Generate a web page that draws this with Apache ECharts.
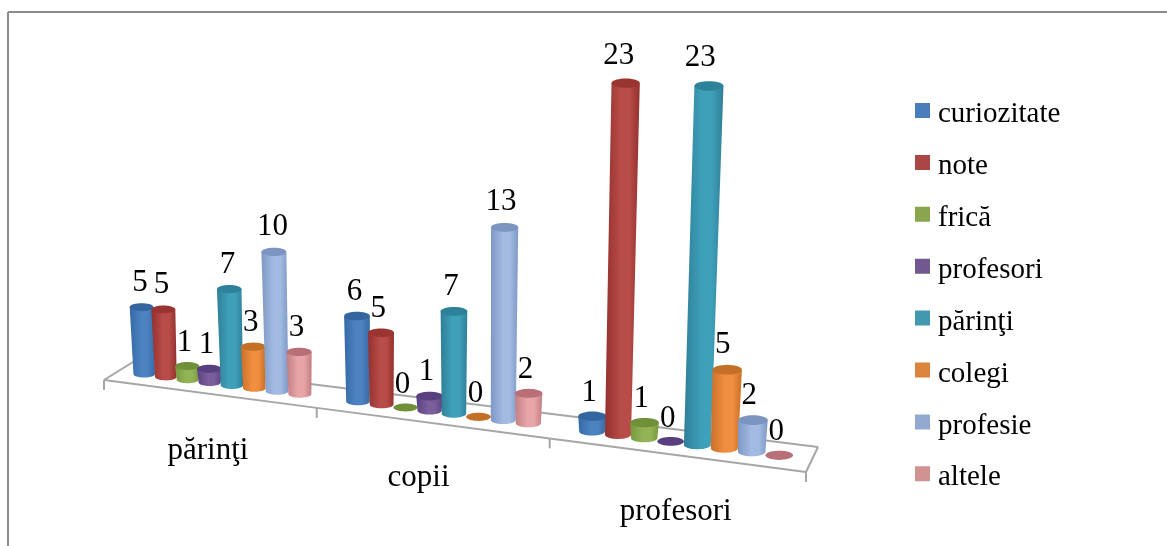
<!DOCTYPE html>
<html><head><meta charset="utf-8">
<style>html,body{margin:0;padding:0;background:#fff}#c{width:1167px;height:546px}</style>
<script src="https://cdn.jsdelivr.net/npm/echarts@6/dist/echarts.min.js"></script>
</head><body><div id="c"></div>
<script>
const categories = ['părinţi', 'copii', 'profesori'];
const seriesNames = ['curiozitate', 'note', 'frică', 'profesori', 'părinţi', 'colegi', 'profesie', 'altele'];
const curiozitate = [5, 6, 1];
const note = [5, 5, 23];
const frica = [1, 0, 1];
const profesori = [1, 1, 0];
const parinti = [7, 7, 23];
const colegi = [3, 0, 5];
const profesie = [10, 13, 2];
const altele = [3, 2, 0];
const seriesValues = [curiozitate, note, frica, profesori, parinti, colegi, profesie, altele];

const swatch = ['#4a7ebb', '#aa4643', '#89a54e', '#71588f', '#4198af', '#db843d', '#93a9cf', '#d19392'];
const capCol = ['#33659f', '#9a3431', '#6f8f38', '#573f80', '#2d8299', '#c46f28', '#7b94c0', '#b96f78'];
const edgeCol = ['#356aa6', '#94302e', '#779a3e', '#5b4280', '#2f7f96', '#c96f28', '#7e98c6', '#c07f85'];
const midCol = ['#4c82c0', '#b84c48', '#93b356', '#7a5f9c', '#3fa0ba', '#f08f40', '#a3bbe2', '#e8a5a8'];

const GL = 104, GW = 702, GT = 30, UNIT = 16.05, VMAX = 25, PERSP = 0.15;
const FONT = '"Liberation Serif","Times New Roman",serif';
const tOf = x => (x - GL) / GW;
const wOf = t => 1 + PERSP - PERSP * t;
const xOf = t => GL + GW * t / wOf(t);
const barBaseY = X => 374 + (X - 144) * 0.128;
const frontY = X => 380 + (X - 104) * 0.131;
const backY = X => 362 + (X - 133) * 0.1241;
const catLabelShift = [0, -12, 1];

function geom(api, cat, s, v) {
  const c0 = api.coord([cat, 0]);
  const cv = api.coord([cat, v]);
  const band = api.size([1, 0])[0];
  const t = tOf(c0[0] + band * (0.06 - 0.012 * cat + (s - 3.5) * 0.104));
  const w = wOf(t);
  const X = xOf(t);
  const h = (c0[1] - cv[1]) / Math.pow(w, 1.38);
  const baseW = 28 / (w * w);
  const by = barBaseY(X);
  const topX = X + 1.3e-4 * h * (X - 450);
  return { X, by, h, baseW, topX, topY: by - h, topW: v > 0 ? baseW + 2.2 : baseW };
}
function arc(cx, cy, rx, ry, a0, a1, n) {
  const p = [];
  for (let i = 0; i <= n; i++) {
    const a = a0 + (a1 - a0) * i / n;
    p.push([cx + rx * Math.cos(a), cy + ry * Math.sin(a)]);
  }
  return p;
}
const barSeries = seriesNames.map((name, s) => ({
  type: 'custom', name, z: 3 + s, silent: true, animation: false, clip: false,
  itemStyle: { color: swatch[s] },
  encode: { x: 0, y: 1 },
  data: seriesValues[s].map((v, i) => [i, v]),
  renderItem(params, api) {
    const g = geom(api, api.value(0), s, api.value(1));
    const rb = g.baseW / 2, rt = g.topW / 2;
    const ryb = g.baseW * 0.165, ryt = g.topW * 0.165;
    const children = [];
    if (g.h > 0.5) {
      const pts = arc(g.X, g.by, rb, ryb, 0, Math.PI, 24)
        .concat([[g.topX - rt, g.topY], [g.topX + rt, g.topY]]);
      children.push({
        type: 'polygon', shape: { points: pts },
        style: {
          fill: new echarts.graphic.LinearGradient(0, 0, 1, 0, [
            { offset: 0, color: edgeCol[s] },
            { offset: 0.45, color: midCol[s] },
            { offset: 0.7, color: midCol[s] },
            { offset: 1, color: edgeCol[s] }
          ])
        }
      });
    }
    children.push({
      type: 'polygon',
      shape: { points: arc(g.topX, g.topY, rt, ryt, 0, Math.PI * 2, 36) },
      style: { fill: capCol[s] }
    });
    return { type: 'group', children };
  }
}));

const lineStyle = { stroke: '#a6a6a6', lineWidth: 2, fill: null };
const frameSeries = {
  type: 'custom', name: 'frame', z: 1, silent: true, animation: false, clip: false,
  encode: { x: 0, y: 1 },
  data: categories.map((c, i) => [i, 0]),
  renderItem(params, api) {
    const i = api.value(0);
    const c = api.coord([i, 0]);
    const band = api.size([1, 0])[0];
    const children = [];
    const xL = xOf(tOf(c[0] - band / 2)), xR = xOf(tOf(c[0] + band / 2));
    children.push({ type: 'line', shape: { x1: xL, y1: frontY(xL), x2: xR, y2: frontY(xR) }, style: lineStyle });
    children.push({ type: 'line', shape: { x1: xR, y1: frontY(xR), x2: xR, y2: frontY(xR) + 10 }, style: lineStyle });
    if (i === 0) {
      children.push({ type: 'line', shape: { x1: xL, y1: frontY(xL), x2: xL, y2: frontY(xL) + 10 }, style: lineStyle });
      children.push({ type: 'line', shape: { x1: xL, y1: frontY(xL), x2: 133, y2: backY(133) }, style: lineStyle });
      children.push({ type: 'line', shape: { x1: 133, y1: backY(133), x2: 818, y2: backY(818) }, style: lineStyle });
    }
    if (i === categories.length - 1) {
      children.push({ type: 'line', shape: { x1: xR, y1: frontY(xR), x2: 818, y2: backY(818) }, style: lineStyle });
    }
    const X = xOf(tOf(c[0])) + catLabelShift[i];
    children.push({
      type: 'text',
      style: { text: categories[i], x: X, y: frontY(X) + 57, align: 'center', verticalAlign: 'middle', font: '31px ' + FONT, fill: '#000' }
    });
    return { type: 'group', children };
  }
};

const labelData = [];
seriesValues.forEach((vals, s) => vals.forEach((v, i) => labelData.push([i, v, s])));
const labelSeries = {
  type: 'custom', name: 'labels', z: 20, silent: true, animation: false, clip: false,
  encode: { x: 0, y: 1 },
  data: labelData,
  renderItem(params, api) {
    const v = api.value(1);
    const g = geom(api, api.value(0), api.value(2), v);
    return {
      type: 'text',
      style: {
        text: String(v), x: (g.X + g.topX) / 2 - 3, y: g.topY - (v > 0 ? 23.5 + g.h * 0.012 : 23),
        align: 'center', verticalAlign: 'middle', font: '31px ' + FONT, fill: '#000'
      }
    };
  }
};

const chart = echarts.init(document.getElementById('c'), null, { renderer: 'canvas' });
chart.setOption({
  animation: false,
  backgroundColor: '#fff',
  grid: { left: GL, width: GW, top: GT, height: UNIT * VMAX },
  xAxis: { type: 'category', data: categories, show: false },
  yAxis: { type: 'value', min: 0, max: VMAX, show: false },
  legend: {
    data: seriesNames, orient: 'vertical', left: 910, top: 95,
    itemWidth: 15, itemHeight: 23, itemGap: 22.9,
    icon: 'path://M0 0H15V15H0Z M0 23L15 23',
    selectedMode: false,
    textStyle: { fontFamily: FONT, fontSize: 29, color: '#000', padding: [0, 0, 0, 3] }
  },
  graphic: [
    { type: 'line', silent: true, shape: { x1: 8, y1: 12, x2: 1167, y2: 12 }, style: { stroke: '#8c8c8c', lineWidth: 2 } },
    { type: 'line', silent: true, shape: { x1: 8, y1: 12, x2: 8, y2: 546 }, style: { stroke: '#8c8c8c', lineWidth: 2 } }
  ],
  series: [frameSeries].concat(barSeries, [labelSeries])
});
</script></body></html>
